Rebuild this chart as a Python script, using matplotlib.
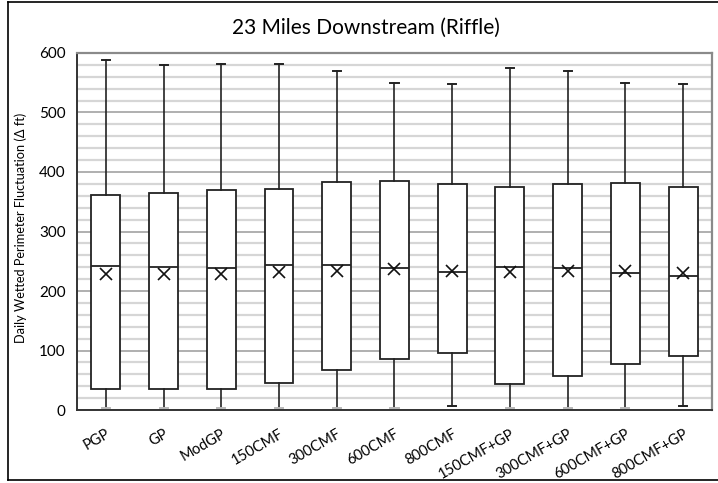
import matplotlib.pyplot as plt
from matplotlib.lines import Line2D
from matplotlib.ticker import MultipleLocator
from matplotlib.transforms import ScaledTranslation

plt.rcParams['font.family'] = ['Lato', 'DejaVu Sans']

scenarios = ['PGP', 'GP', 'ModGP', '150CMF', '300CMF', '600CMF', '800CMF',
             '150CMF+GP', '300CMF+GP', '600CMF+GP', '800CMF+GP']
whisker_low = [4, 4, 4, 4, 4, 4, 6, 4, 4, 4, 6]
q1 = [35, 36, 36, 45, 67, 86, 96, 43, 58, 77, 91]
median = [242, 240, 239, 243, 243, 238, 232, 240, 239, 231, 226]
q3 = [362, 365, 370, 372, 383, 385, 379, 374, 380, 381, 374]
whisker_high = [589, 580, 582, 582, 570, 550, 548, 574, 570, 550, 548]
mean = [228, 229, 229, 232, 234, 237, 233, 232, 233, 233, 231]

stats = []
for i, name in enumerate(scenarios):
    stats.append({'label': name, 'whislo': whisker_low[i], 'q1': q1[i],
                  'med': median[i], 'q3': q3[i], 'whishi': whisker_high[i],
                  'mean': mean[i], 'fliers': []})

fig = plt.figure(figsize=(7.18, 4.83), dpi=100)
ax = fig.add_axes([0.1072, 0.1511, 0.8844, 0.7392])

ax.yaxis.set_major_locator(MultipleLocator(100))
ax.yaxis.set_minor_locator(MultipleLocator(20))
ax.grid(which='minor', axis='y', color='#d6d6d6', linewidth=1.6)
ax.grid(which='major', axis='y', color='#9a9a9a', linewidth=1.1)
ax.set_axisbelow(True)

pos = list(range(1, len(scenarios) + 1))
bp = ax.bxp(stats, positions=pos, widths=0.5, showmeans=True, patch_artist=True,
            capwidths=0.14,
            boxprops=dict(facecolor='white', edgecolor='#222222', linewidth=1.3),
            medianprops=dict(color='#222222', linewidth=1.3),
            whiskerprops=dict(color='#222222', linewidth=1.2),
            capprops=dict(color='#222222', linewidth=1.4),
            meanprops=dict(marker='x', markeredgecolor='#111111', markersize=9,
                           markeredgewidth=1.2))

# lower caps sit on the axis and read grey except where the whisker stops short
for i, cap in enumerate(bp['caps'][0::2]):
    if whisker_low[i] < 5:
        cap.set_color('#b8b8b8')

ax.set_xlim(0.5, len(scenarios) + 0.5)
ax.set_ylim(0, 600)
ax.set_xticks(pos)
ax.set_xticklabels(scenarios, rotation=30, ha='right', rotation_mode='anchor',
                   fontsize=10.5)
shift = ScaledTranslation(6 / 100, 0, fig.dpi_scale_trans)
for lbl in ax.get_xticklabels():
    lbl.set_transform(lbl.get_transform() + shift)
ax.tick_params(axis='x', length=0, pad=12)
ax.tick_params(axis='y', which='both', length=0, labelsize=11, pad=8)
ax.tick_params(axis='y', which='minor', labelleft=False)

for side in ['top', 'right']:
    ax.spines[side].set_color('#8a8a8a')
    ax.spines[side].set_linewidth(1.6)
for side in ['left', 'bottom']:
    ax.spines[side].set_color('#333333')
    ax.spines[side].set_linewidth(1.4)

ax.set_ylabel('Daily Wetted Perimeter Fluctuation (Δ ft)', fontsize=9.2)
ax.yaxis.set_label_coords(-0.079, 0.51)
fig.text(0.51, 0.942, '23 Miles Downstream (Riffle)', ha='center', va='center',
         fontsize=15)

# outer frame
x0, y0, y1 = 7.5 / 718, 3 / 483, 481 / 483
fig.add_artist(Line2D([x0, x0], [y0, y1], color='black', linewidth=1.2))
fig.add_artist(Line2D([x0, 1], [y1, y1], color='black', linewidth=1.2))
fig.add_artist(Line2D([x0, 1], [y0, y0], color='black', linewidth=1.2))

fig.savefig('out.png', dpi=100)
